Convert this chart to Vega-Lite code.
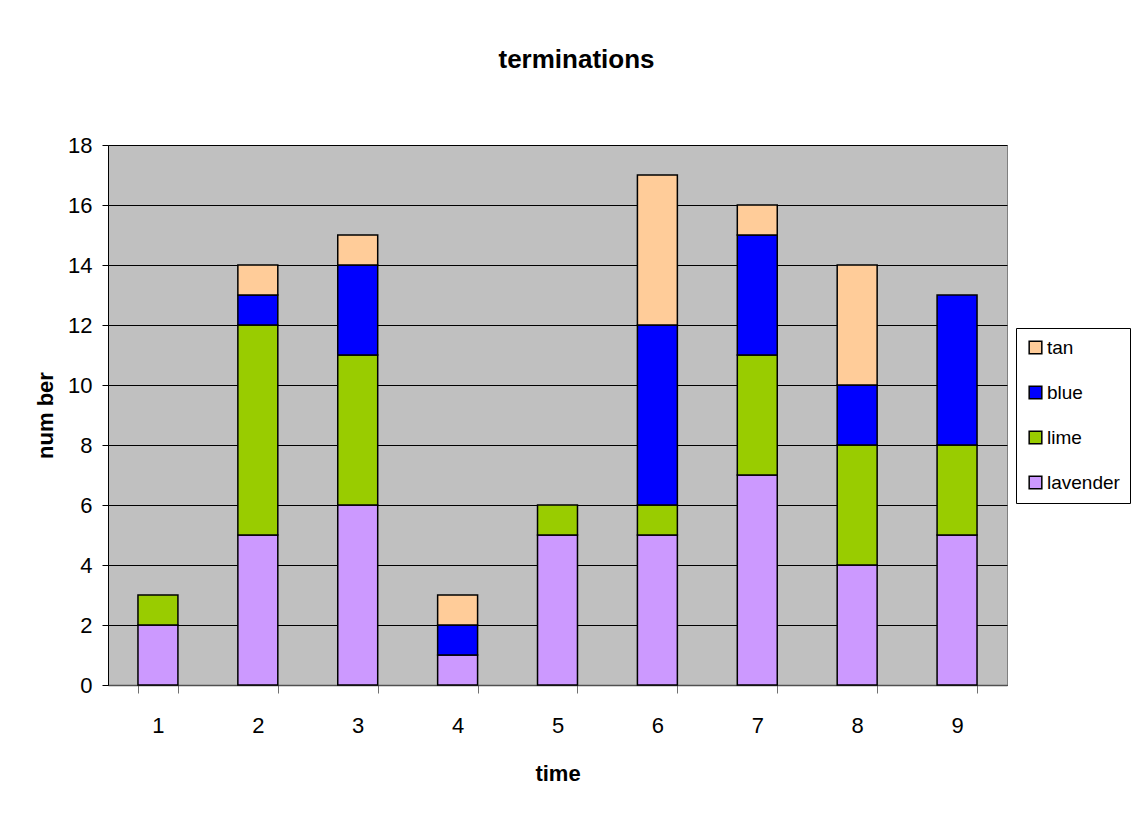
{
  "$schema": "https://vega.github.io/schema/vega-lite/v6.json",
  "autosize": {"type": "none"},
  "padding": {"left": 108, "top": 145, "right": 128, "bottom": 136},
  "width": 899,
  "height": 540,
  "background": "white",
  "title": {
    "text": "terminations",
    "font": "Liberation Sans",
    "fontSize": 26,
    "fontWeight": "bold",
    "color": "black",
    "anchor": "middle",
    "dx": 19,
    "offset": 61
  },
  "data": {
    "values": [
      {"time": "1", "series": "lavender", "rank": 1, "number": 2},
      {"time": "1", "series": "lime", "rank": 2, "number": 1},
      {"time": "2", "series": "lavender", "rank": 1, "number": 5},
      {"time": "2", "series": "lime", "rank": 2, "number": 7},
      {"time": "2", "series": "blue", "rank": 3, "number": 1},
      {"time": "2", "series": "tan", "rank": 4, "number": 1},
      {"time": "3", "series": "lavender", "rank": 1, "number": 6},
      {"time": "3", "series": "lime", "rank": 2, "number": 5},
      {"time": "3", "series": "blue", "rank": 3, "number": 3},
      {"time": "3", "series": "tan", "rank": 4, "number": 1},
      {"time": "4", "series": "lavender", "rank": 1, "number": 1},
      {"time": "4", "series": "blue", "rank": 3, "number": 1},
      {"time": "4", "series": "tan", "rank": 4, "number": 1},
      {"time": "5", "series": "lavender", "rank": 1, "number": 5},
      {"time": "5", "series": "lime", "rank": 2, "number": 1},
      {"time": "6", "series": "lavender", "rank": 1, "number": 5},
      {"time": "6", "series": "lime", "rank": 2, "number": 1},
      {"time": "6", "series": "blue", "rank": 3, "number": 6},
      {"time": "6", "series": "tan", "rank": 4, "number": 5},
      {"time": "7", "series": "lavender", "rank": 1, "number": 7},
      {"time": "7", "series": "lime", "rank": 2, "number": 4},
      {"time": "7", "series": "blue", "rank": 3, "number": 4},
      {"time": "7", "series": "tan", "rank": 4, "number": 1},
      {"time": "8", "series": "lavender", "rank": 1, "number": 4},
      {"time": "8", "series": "lime", "rank": 2, "number": 4},
      {"time": "8", "series": "blue", "rank": 3, "number": 2},
      {"time": "8", "series": "tan", "rank": 4, "number": 4},
      {"time": "9", "series": "lavender", "rank": 1, "number": 5},
      {"time": "9", "series": "lime", "rank": 2, "number": 3},
      {"time": "9", "series": "blue", "rank": 3, "number": 5}
    ]
  },
  "mark": {"type": "bar", "stroke": "black", "strokeWidth": 1.5},
  "encoding": {
    "x": {
      "field": "time",
      "type": "ordinal",
      "scale": {"paddingInner": 0.6, "paddingOuter": 0.3},
      "axis": {
        "title": "time",
        "labelAngle": 0,
        "tickBand": "extent",
        "tickSize": 8,
        "tickColor": "#707070",
        "domainColor": "#505050",
        "domainWidth": 1.5,
        "labelPadding": 22,
        "titlePadding": 27
      }
    },
    "y": {
      "field": "number",
      "type": "quantitative",
      "aggregate": "sum",
      "stack": "zero",
      "scale": {"domain": [0, 18], "nice": false},
      "axis": {
        "title": "num ber",
        "values": [0, 2, 4, 6, 8, 10, 12, 14, 16, 18],
        "tickSize": 6,
        "tickColor": "black",
        "domainColor": "black",
        "grid": true,
        "gridColor": "black",
        "gridWidth": 1,
        "labelPadding": 10,
        "titlePadding": 10
      }
    },
    "color": {
      "field": "series",
      "type": "nominal",
      "scale": {
        "domain": ["tan", "blue", "lime", "lavender"],
        "range": ["#FFCC99", "#0000FF", "#99CC00", "#CC99FF"]
      },
      "legend": {
        "title": null,
        "orient": "none",
        "legendX": 908,
        "legendY": 183,
        "padding": 10,
        "strokeColor": "black",
        "fillColor": "white",
        "symbolType": "square",
        "symbolSize": 160,
        "symbolStrokeColor": "black",
        "symbolStrokeWidth": 1.5,
        "labelFontSize": 19,
        "labelFont": "Liberation Sans",
        "labelColor": "black",
        "labelLimit": 200,
        "rowPadding": 25,
        "labelOffset": 2
      }
    },
    "order": {"field": "rank", "type": "quantitative"}
  },
  "config": {
    "view": {"fill": "#C0C0C0", "stroke": "#808080"},
    "axis": {
      "labelFont": "Liberation Sans",
      "labelFontSize": 22,
      "labelColor": "black",
      "titleFont": "Liberation Sans",
      "titleFontSize": 22,
      "titleFontWeight": "bold",
      "titleColor": "black"
    }
  }
}
